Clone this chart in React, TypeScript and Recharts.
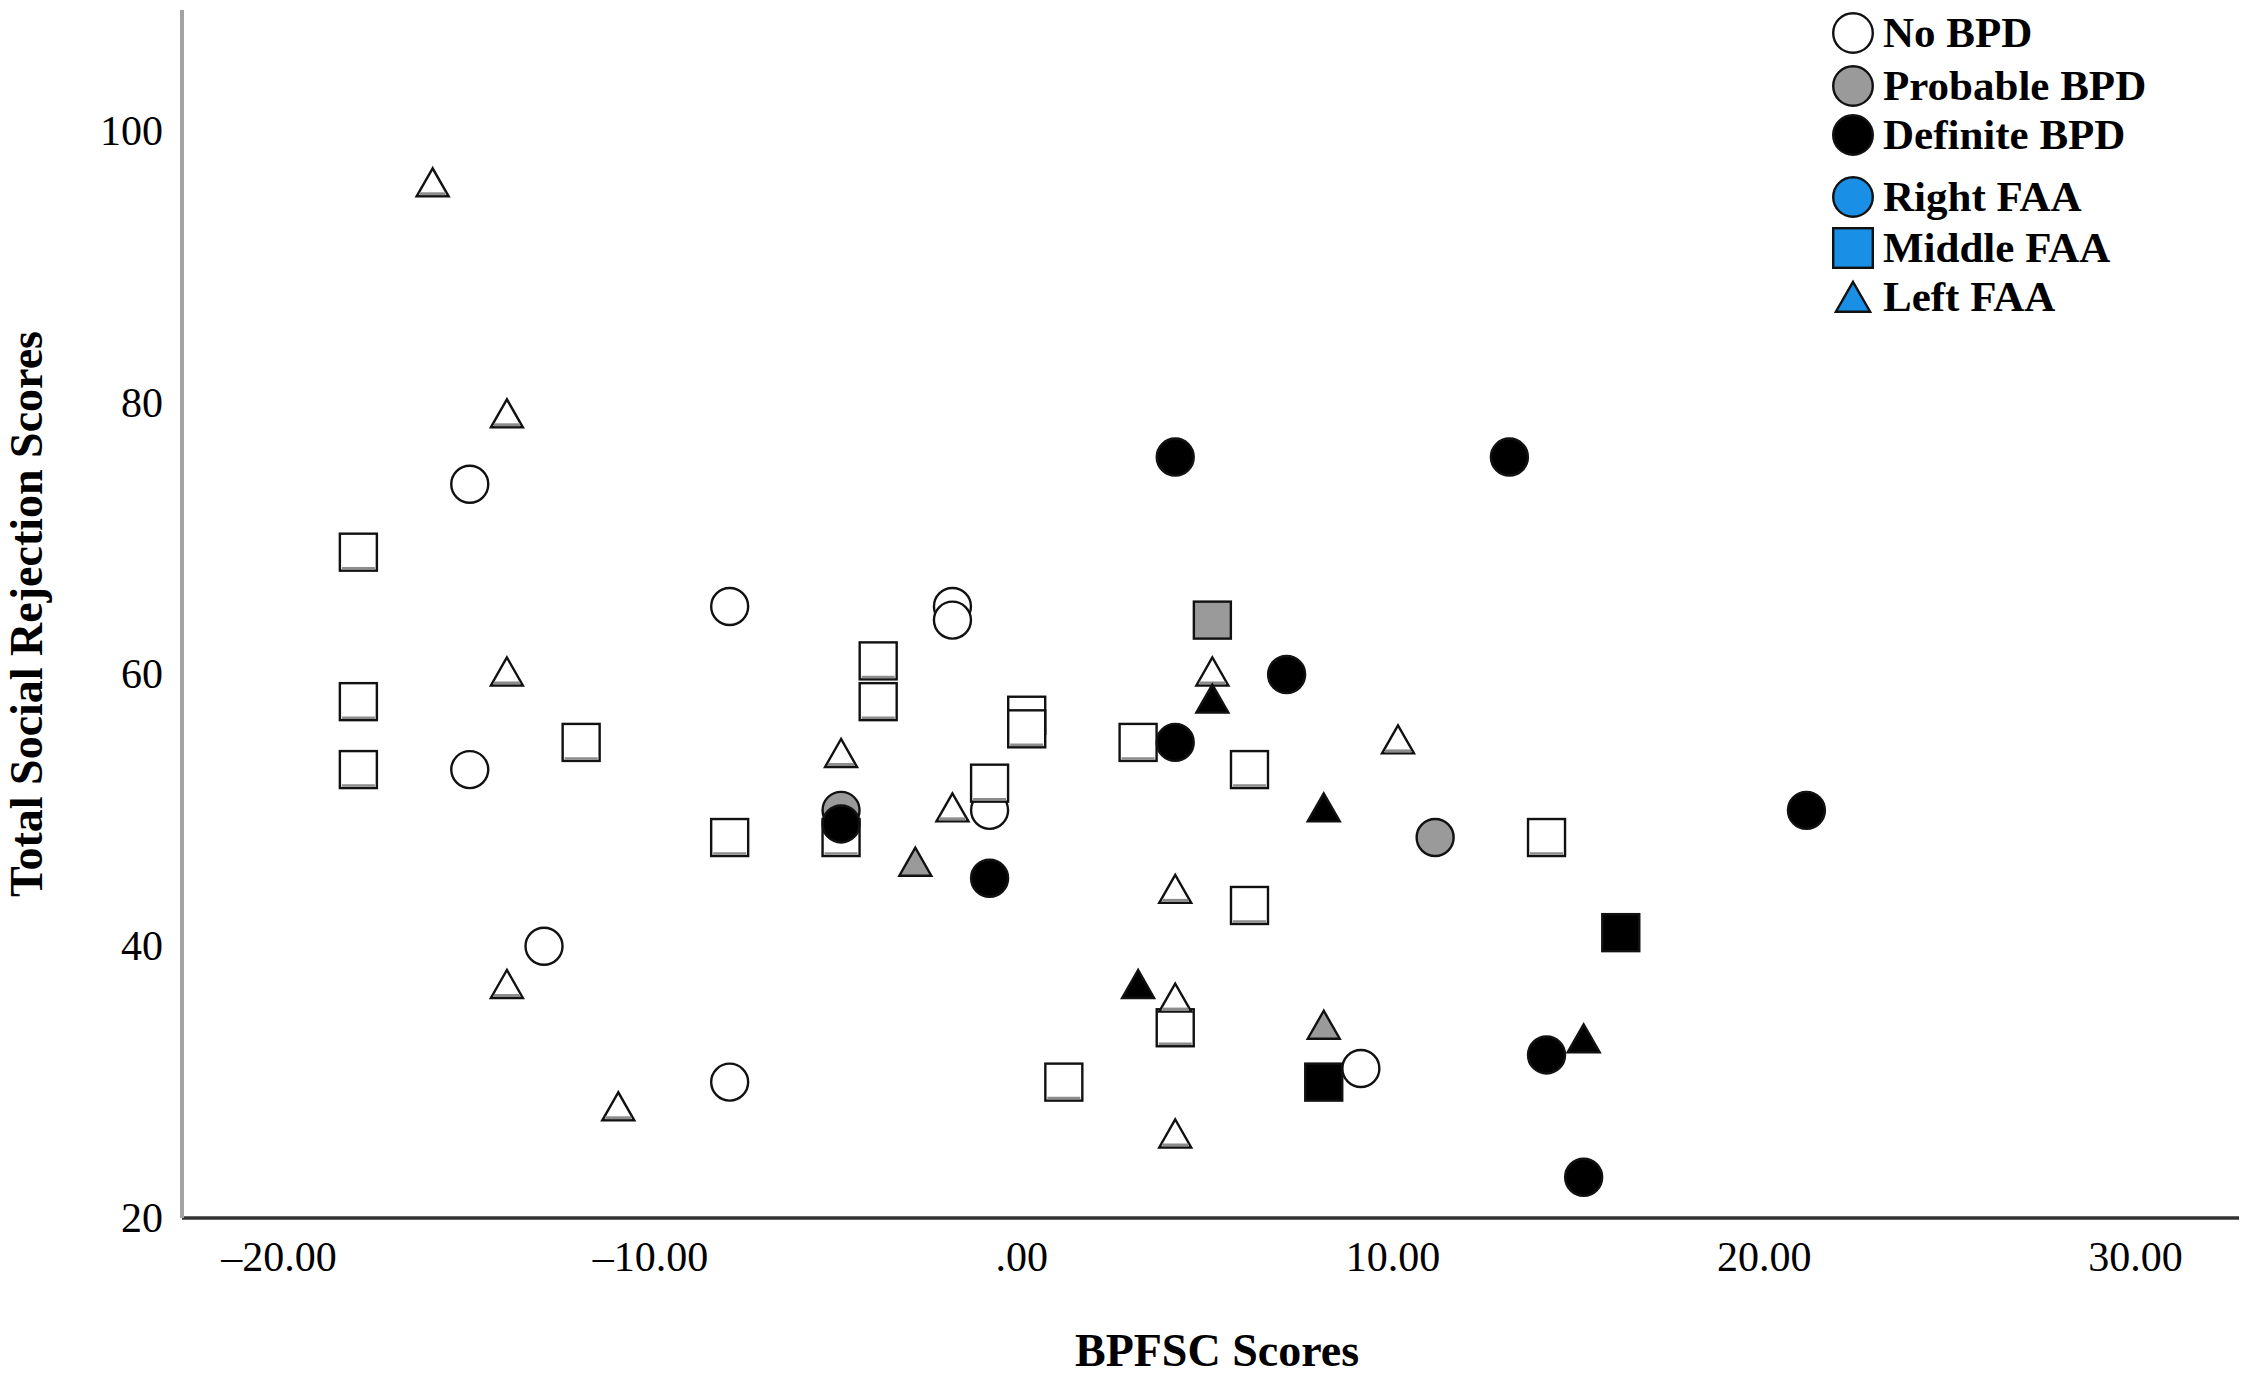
import React from 'react';
import { ScatterChart, Scatter, XAxis, YAxis } from 'recharts';

// ---- data (BPFSC score x, total social rejection score y) ----
const noBpdRight = [
  { x: -15, y: 74 }, { x: -15, y: 53 }, { x: -13, y: 40 }, { x: -8, y: 65 }, { x: -8, y: 30 },
  { x: -2, y: 65 }, { x: -2, y: 64 }, { x: -1, y: 50 }, { x: 9, y: 31 },
];
const noBpdMiddle = [
  { x: -18, y: 69 }, { x: -18, y: 58 }, { x: -18, y: 53 }, { x: -12, y: 55 }, { x: -8, y: 48 },
  { x: -5, y: 48 }, { x: -4, y: 61 }, { x: -4, y: 58 }, { x: 0, y: 57 }, { x: 0, y: 56 },
  { x: -1, y: 52 }, { x: 1, y: 30 }, { x: 3, y: 55 }, { x: 6, y: 53 }, { x: 6, y: 43 },
  { x: 4, y: 34 }, { x: 14, y: 48 },
];
const noBpdLeft = [
  { x: -16, y: 96 }, { x: -14, y: 79 }, { x: -14, y: 60 }, { x: -14, y: 37 }, { x: -11, y: 28 },
  { x: -5, y: 54 }, { x: -2, y: 50 }, { x: 5, y: 60 }, { x: 10, y: 55 }, { x: 4, y: 44 },
  { x: 4, y: 36 }, { x: 4, y: 26 },
];
const probableRight = [{ x: -5, y: 50 }, { x: 11, y: 48 }];
const probableMiddle = [{ x: 5, y: 64 }];
const probableLeft = [{ x: -3, y: 46 }, { x: 8, y: 34 }];
const definiteRight = [
  { x: 4, y: 76 }, { x: 13, y: 76 }, { x: 7, y: 60 }, { x: 4, y: 55 }, { x: -5, y: 49 },
  { x: -1, y: 45 }, { x: 14, y: 32 }, { x: 15, y: 23 }, { x: 21, y: 50 },
];
const definiteMiddle = [{ x: 16, y: 41 }, { x: 8, y: 30 }];
const definiteLeft = [{ x: 5, y: 58 }, { x: 8, y: 50 }, { x: 3, y: 37 }, { x: 15, y: 33 }];

const xTicks = [-20, -10, 0, 10, 20, 30];
const yTicks = [20, 40, 60, 80, 100];
const xDomain = [-22.75, 32.65];
const yDomain = [20, 108.9];

const groupLegend = ['No BPD', 'Probable BPD', 'Definite BPD'];
const faaLegend = ['Right FAA', 'Middle FAA', 'Left FAA'];

const FONT = '"Liberation Serif", "Times New Roman", Times, serif';
const WHITE = '#ffffff';
const GREY = '#9a9a9a';
const BLACK = '#000000';
const BLUE = '#1a8fe6';

type Kind = 'circle' | 'square' | 'triangle';

function Mark({ cx, cy, kind, fill, s = 1 }: { cx: number; cy: number; kind: Kind; fill: string; s?: number }) {
  const stroke = '#111';
  const sw = 2.4;
  const shade = fill === WHITE ? '#8c8c8c' : fill;
  if (kind === 'circle') {
    const r = 18.5 * s;
    return <circle cx={cx} cy={cy} r={r} fill={fill} stroke={stroke} strokeWidth={sw} />;
  }
  if (kind === 'square') {
    const h = 18.5 * s;
    return (
      <g>
        <rect x={cx - h} y={cy - h} width={2 * h} height={2 * h} fill={fill} stroke={stroke} strokeWidth={sw} />
        {fill === WHITE && (
          <line x1={cx - h + 2} x2={cx + h - 2} y1={cy + h - 2.5} y2={cy + h - 2.5} stroke={shade} strokeWidth={2.5} />
        )}
      </g>
    );
  }
  const w = 16 * s;
  const h = 14 * s;
  const c = cy - 3 * s;
  return (
    <g>
      <polygon
        points={`${cx},${c - h} ${cx - w},${c + h} ${cx + w},${c + h}`}
        fill={fill}
        stroke={stroke}
        strokeWidth={sw}
        strokeLinejoin="miter"
      />
      {fill === WHITE && (
        <line x1={cx - w + 3} x2={cx + w - 3} y1={c + h - 2.5} y2={c + h - 2.5} stroke={shade} strokeWidth={3} />
      )}
    </g>
  );
}

const shapeFn = (kind: Kind, fill: string) => (p: any) => {
  if (p == null || p.cx == null || p.cy == null) return <g />;
  return <Mark cx={p.cx} cy={p.cy} kind={kind} fill={fill} />;
};

const fmtX = (v: number) => {
  if (v === 0) return '.00';
  const a = Math.abs(v).toFixed(2);
  return v < 0 ? '\u2013' + a : a;
};

const XTick = (props: any) => {
  const { x, y, payload } = props;
  return (
    <text x={x - 5} y={y + 53} textAnchor="middle" fontFamily={FONT} fontSize={42} fill="#000">
      {fmtX(payload.value)}
    </text>
  );
};

const YTick = (props: any) => {
  const { x, y, payload } = props;
  return (
    <text x={x - 19} y={y + 14} textAnchor="end" fontFamily={FONT} fontSize={42} fill="#000">
      {payload.value}
    </text>
  );
};

const W = 2234;
const H = 1364;

export default function App() {
  // legend rows, y in page pixels
  const legendRows = [
    { label: groupLegend[0], kind: 'circle' as Kind, fill: WHITE, y: 33 },
    { label: groupLegend[1], kind: 'circle' as Kind, fill: GREY, y: 86 },
    { label: groupLegend[2], kind: 'circle' as Kind, fill: BLACK, y: 135 },
    { label: faaLegend[0], kind: 'circle' as Kind, fill: BLUE, y: 197 },
    { label: faaLegend[1], kind: 'square' as Kind, fill: BLUE, y: 248 },
    { label: faaLegend[2], kind: 'triangle' as Kind, fill: BLUE, y: 297 },
  ];
  return (
    <div style={{ position: 'relative', width: W, height: H, background: '#fff' }}>
      <ScatterChart width={W} height={H} margin={{ top: 2, right: 3, bottom: 0, left: 0 }}>
        <XAxis
          type="number"
          dataKey="x"
          domain={xDomain}
          ticks={xTicks}
          allowDataOverflow
          height={154}
          tickLine={false}
          tickSize={0}
          tickMargin={0}
          axisLine={{ stroke: '#333', strokeWidth: 3.5 }}
          tick={<XTick />}
        />
        <YAxis
          type="number"
          dataKey="y"
          domain={yDomain}
          ticks={yTicks}
          allowDataOverflow
          width={174}
          tickLine={false}
          tickSize={0}
          tickMargin={0}
          axisLine={{ stroke: '#a3a3a3', strokeWidth: 4 }}
          tick={<YTick />}
        />
        <Scatter data={definiteMiddle} isAnimationActive={false} shape={shapeFn('square', BLACK)} />
        <Scatter data={noBpdRight} isAnimationActive={false} shape={shapeFn('circle', WHITE)} />
        <Scatter data={noBpdMiddle} isAnimationActive={false} shape={shapeFn('square', WHITE)} />
        <Scatter data={noBpdLeft} isAnimationActive={false} shape={shapeFn('triangle', WHITE)} />
        <Scatter data={probableRight} isAnimationActive={false} shape={shapeFn('circle', GREY)} />
        <Scatter data={probableMiddle} isAnimationActive={false} shape={shapeFn('square', GREY)} />
        <Scatter data={probableLeft} isAnimationActive={false} shape={shapeFn('triangle', GREY)} />
        <Scatter data={definiteLeft} isAnimationActive={false} shape={shapeFn('triangle', BLACK)} />
        <Scatter data={definiteRight} isAnimationActive={false} shape={shapeFn('circle', BLACK)} />
      </ScatterChart>
      <svg
        width={2250}
        height={1380}
        style={{ position: 'absolute', left: -8, top: -8, pointerEvents: 'none', overflow: 'visible' }}
      >
        <text x={1217} y={1366} textAnchor="middle" fontFamily={FONT} fontWeight="bold" fontSize={46} fill="#000">
          BPFSC Scores
        </text>
        <text
          x={42}
          y={614}
          textAnchor="middle"
          fontFamily={FONT}
          fontWeight="bold"
          fontSize={46}
          fill="#000"
          transform="rotate(-90 42 614)"
        >
          Total Social Rejection Scores
        </text>
        {legendRows.map((r) => (
          <g key={r.label}>
            <Mark cx={1853} cy={r.kind === 'triangle' ? r.y + 3 : r.y} kind={r.kind} fill={r.fill} s={1.07} />
            <text x={1883} y={r.y + 14} fontFamily={FONT} fontWeight="bold" fontSize={43} fill="#000">
              {r.label}
            </text>
          </g>
        ))}
      </svg>
    </div>
  );
}
